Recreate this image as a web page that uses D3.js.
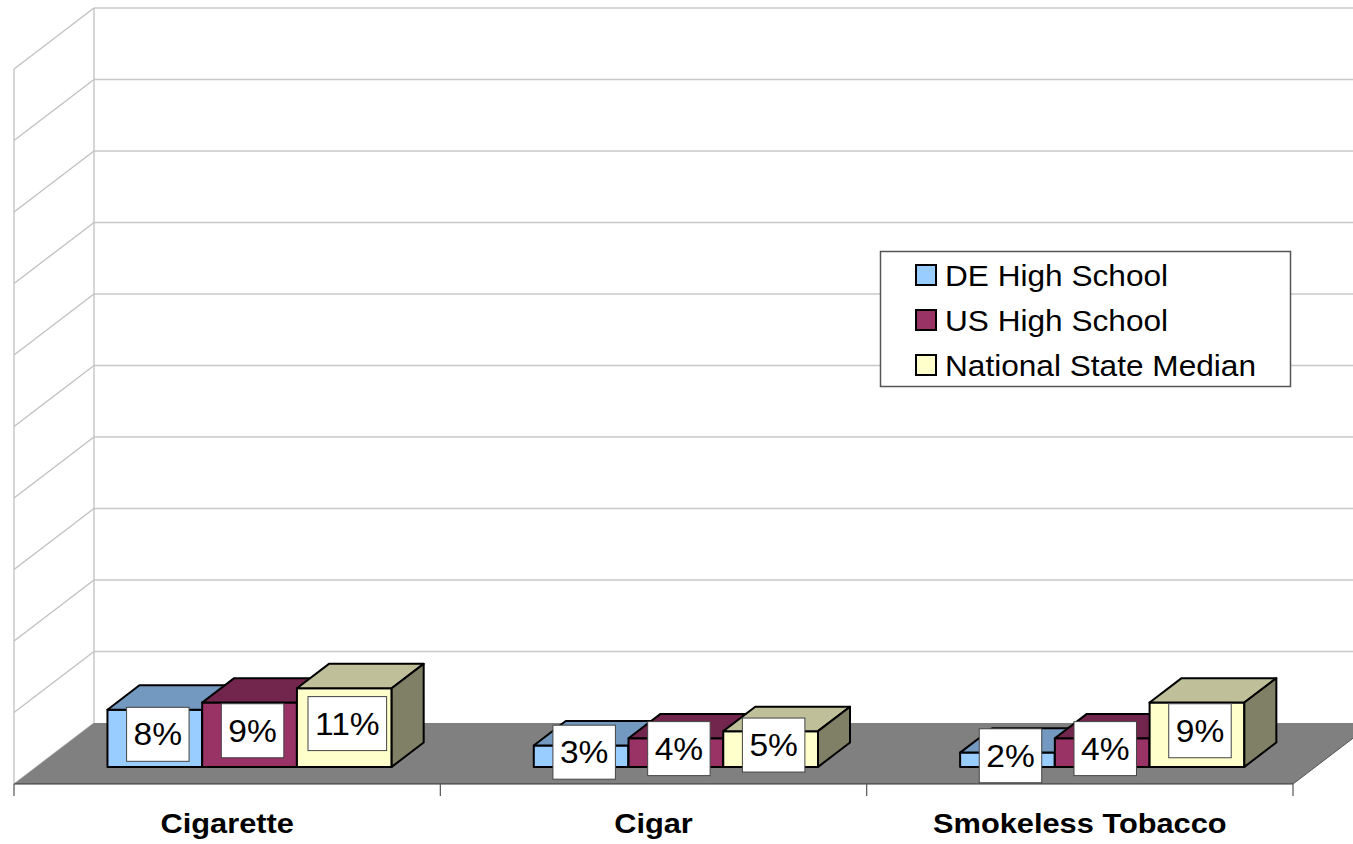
<!DOCTYPE html>
<html>
<head>
<meta charset="utf-8">
<script src="https://cdn.jsdelivr.net/npm/d3@7"></script>
<style>
  html, body { margin: 0; padding: 0; background: #fff; }
  svg { display: block; }
  text { font-family: "Liberation Sans", Arial, sans-serif; }
</style>
</head>
<body>
<svg id="chart" width="1353" height="844"></svg>
<script>
// ---- data ----
const categories = ["Cigarette", "Cigar", "Smokeless Tobacco"];
const seriesNames = ["DE High School", "US High School", "National State Median"];
const deHighSchool = [8, 3, 2];
const usHighSchool = [9, 4, 4];
const nationalStateMedian = [11, 5, 9];
const valueTicks = [0, 10, 20, 30, 40, 50, 60, 70, 80, 90, 100];

const seriesValues = [deHighSchool, usHighSchool, nationalStateMedian];
const frontColors = ["#99CCFF", "#993366", "#FFFFCC"];
const topColors = ["#7399C0", "#73264D", "#BFBF99"];
const sideColors = ["#5C7A99", "#5C1F3D", "#808066"];

const svg = d3.select("#chart");
const SX = 1.1; // horizontal text stretch

// 3D geometry
const x0 = 14, x1 = 1293;
const depthDX = 80, depthDY = -61;
const y = d3.scaleLinear().domain([0, 100]).range([784, 69]);
const x = d3.scaleBand().domain(categories).range([x0, x1]);
const bw = x.bandwidth();
const xs = d3.scaleBand().domain(seriesNames).range([bw / 6, bw * 5 / 6]);
const dFront = 0.28, dBack = 0.68;

function P(px, d, v) {
  return [px + d * depthDX, y(v) + d * depthDY];
}
const line = pts => "M" + pts.map(p => p.join(",")).join("L") + "Z";

// back wall gridlines
const grid = svg.append("g");
valueTicks.forEach(t => {
  const a = P(x0, 0, t), b = P(x0, 1, t);
  grid.append("line").attr("x1", a[0]).attr("y1", a[1]).attr("x2", b[0]).attr("y2", b[1])
    .attr("stroke", "#C0C0C0").attr("stroke-width", 1.3);
  if (t > 0) {
    grid.append("line").attr("x1", b[0]).attr("y1", b[1]).attr("x2", 1353).attr("y2", b[1])
      .attr("stroke", "#C8C8C8").attr("stroke-width", 1.5);
  }
});
// wall verticals
{
  const a = P(x0, 0, 0), b = P(x0, 0, 100);
  grid.append("line").attr("x1", a[0]).attr("y1", a[1]).attr("x2", b[0]).attr("y2", b[1])
    .attr("stroke", "#C0C0C0").attr("stroke-width", 1.3);
  const c = P(x0, 1, 0), d = P(x0, 1, 100);
  grid.append("line").attr("x1", c[0]).attr("y1", c[1]).attr("x2", d[0]).attr("y2", d[1])
    .attr("stroke", "#C0C0C0").attr("stroke-width", 1.3);
}

// floor
svg.append("path")
  .attr("d", line([P(x0, 0, 0), P(x0, 1, 0), P(x1 + 200, 1, 0), P(x1 + 200, 0, 0)]))
  .attr("fill", "#808080");
{
  const a = P(x1, 0, 0), b = P(x1, 1, 0);
  svg.append("path").attr("d", line([a, b, [1400, b[1]], [1400, a[1] + 10], [a[0], a[1] + 10]]))
    .attr("fill", "#fff");
  svg.append("line").attr("x1", a[0]).attr("y1", a[1]).attr("x2", b[0]).attr("y2", b[1])
    .attr("stroke", "#555").attr("stroke-width", 1);
}
// front axis line and ticks
{
  const a = P(x0, 0, 0), b = P(x1, 0, 0);
  svg.append("line").attr("x1", a[0]).attr("y1", a[1]).attr("x2", b[0]).attr("y2", b[1])
    .attr("stroke", "#333").attr("stroke-width", 1.2);
  const tickXs = categories.map(c => x(c)).concat([x1]);
  tickXs.forEach(tx => {
    svg.append("line").attr("x1", tx).attr("y1", a[1]).attr("x2", tx).attr("y2", a[1] + 12)
      .attr("stroke", "#555").attr("stroke-width", 1.2);
  });
}

// bars
const bars = svg.append("g");
categories.forEach((cat, ci) => {
  seriesNames.forEach((s, si) => {
    const v = seriesValues[si][ci];
    const L = x(cat) + xs(s), R = L + xs.bandwidth();
    const fBL = P(L, dFront, 0), fBR = P(R, dFront, 0), fTL = P(L, dFront, v), fTR = P(R, dFront, v);
    const bTL = P(L, dBack, v), bTR = P(R, dBack, v), bBR = P(R, dBack, 0);
    const g = bars.append("g").attr("stroke", "#000").attr("stroke-width", 2).attr("stroke-linejoin", "round");
    g.append("path").attr("d", line([fBL, fBR, fTR, fTL])).attr("fill", frontColors[si]);
    g.append("path").attr("d", line([fTL, fTR, bTR, bTL])).attr("fill", topColors[si]);
    g.append("path").attr("d", line([fBR, bBR, bTR, fTR])).attr("fill", sideColors[si]);
  });
});

// data labels
const labels = svg.append("g");
categories.forEach((cat, ci) => {
  seriesNames.forEach((s, si) => {
    const v = seriesValues[si][ci];
    const L = x(cat) + xs(s), R = L + xs.bandwidth();
    const base = P(L, dFront, 0)[1];
    const top = P(L, dFront, v)[1];
    const cx = (L + R) / 2 + dFront * depthDX + 3;
    const cy = (base + top) / 2 - 4;
    const g = labels.append("g");
    const tg = g.append("g").attr("transform", `translate(${cx},${cy + 11}) scale(${SX},1)`);
    const t = tg.append("text").attr("text-anchor", "middle").attr("font-size", 30.5)
      .attr("fill", "#000").text(v + "%");
    const w = t.node().getComputedTextLength() * SX + 14;
    const h = 54;
    g.insert("rect", ":first-child").attr("x", cx - w / 2).attr("y", cy - h / 2)
      .attr("width", w).attr("height", h).attr("fill", "#fff").attr("stroke", "#444").attr("stroke-width", 1);
  });
});

// category labels
categories.forEach(cat => {
  svg.append("g").attr("transform", `translate(${x(cat) + bw / 2},833) scale(1.08,1)`)
    .append("text").attr("text-anchor", "middle").attr("font-size", 28.5).attr("font-weight", "bold")
    .attr("fill", "#000").text(cat);
});

// legend
const lg = svg.append("g");
lg.append("rect").attr("x", 880.5).attr("y", 251.5).attr("width", 410).attr("height", 135)
  .attr("fill", "#fff").attr("stroke", "#555").attr("stroke-width", 1.5);
seriesNames.forEach((s, i) => {
  const cy = 275 + i * 45;
  lg.append("rect").attr("x", 916).attr("y", cy - 10).attr("width", 20).attr("height", 20)
    .attr("fill", frontColors[i]).attr("stroke", "#000").attr("stroke-width", 2);
  lg.append("g").attr("transform", `translate(945,${cy + 10.5}) scale(1.09,1)`)
    .append("text").attr("font-size", 29).attr("fill", "#000").text(s);
});
</script>
</body>
</html>
